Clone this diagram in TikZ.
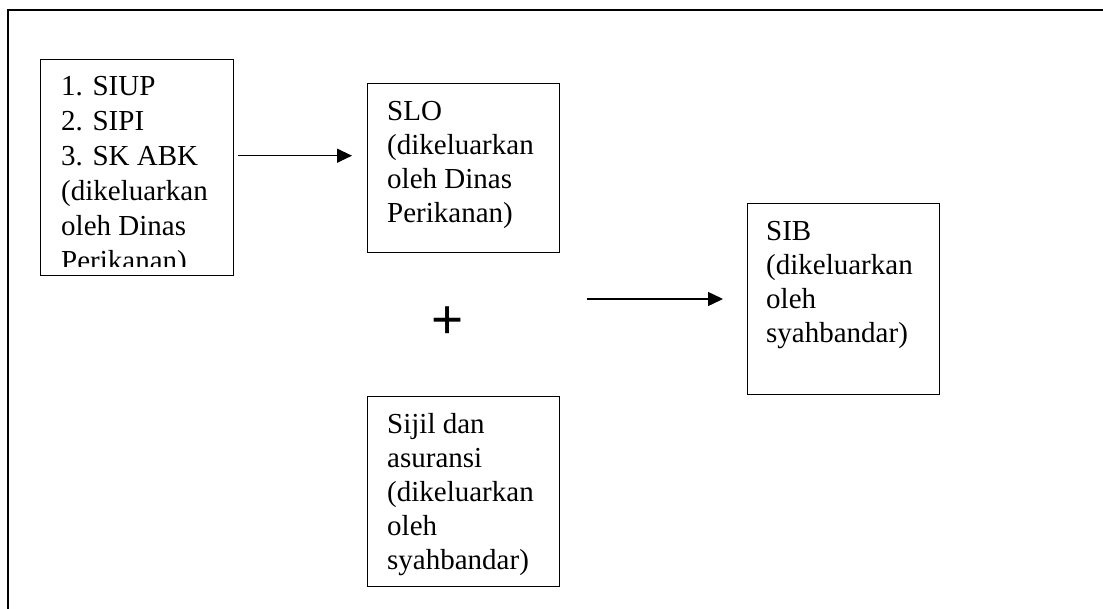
\documentclass[tikz,border=0pt]{standalone}
\usepackage{fontspec}
\setmainfont{Liberation Serif}
\newfontfamily\plusfont{Liberation Sans}
\usetikzlibrary{arrows.meta}
\tikzset{
  boxnode/.style={draw=black, line width=1.4pt, rectangle, inner sep=0pt, anchor=north west},
  txt/.style={inner sep=0pt, anchor=north west, align=left, font=\fontsize{29}{34}\selectfont},
  txtw/.style={txt, font=\fontsize{29}{35}\selectfont},
  conn/.style={line width=1.4pt, -{Triangle[length=15pt,width=14pt]}},
  framel/.style={line width=2.2pt}
}
\begin{document}
\begin{tikzpicture}[x=1pt,y=-1pt]
\useasboundingbox (0,0) rectangle (1103,608);
% outer frame (open at right and bottom)
\coordinate (fr) at (1104,10);
\coordinate (fc) at (8,10);
\coordinate (fb) at (8,609);
\draw[framel] (fr) -- (fc) -- (fb);
% boxes
\node[boxnode, minimum width=193pt, minimum height=216pt] (b1) at (40,59) {};
\node[boxnode, minimum width=192pt, minimum height=169pt] (slo) at (367,83) {};
\node[boxnode, minimum width=192pt, minimum height=191pt] (sib) at (747,203) {};
\node[boxnode, minimum width=192pt, minimum height=190pt] (sijil) at (367,396) {};
% texts
\begin{scope}
\clip (40,59) rectangle (233,266);
\node[txtw] (t1) at (61,70) {\rule{0pt}{25pt}1. SIUP\\2. SIPI\\3. SK ABK\\(dikeluarkan\\oleh Dinas\\Perikanan)};
\end{scope}
\node[txt] (tslo) at (387,95) {\rule{0pt}{25pt}SLO\\(dikeluarkan\\oleh Dinas\\Perikanan)};
\node[txt] (tsib) at (766,215) {\rule{0pt}{25pt}SIB\\(dikeluarkan\\oleh\\syahbandar)};
\node[txt] (tsijil) at (387,408) {\rule{0pt}{25pt}Sijil dan\\asuransi\\(dikeluarkan\\oleh\\syahbandar)};
% plus
\node[inner sep=0pt, font=\plusfont\fontsize{55}{55}\selectfont] (plus) at (448,323) {+};
% connectors
\draw[conn, shorten <=4pt, shorten >=15pt] ([yshift=12pt]b1.east) -- ([yshift=12pt]b1.east -| slo.west);
\coordinate (a2s) at (587,299);
\draw[conn, shorten >=24pt] (a2s) -- (a2s -| sib.west);
\end{tikzpicture}
\end{document}
